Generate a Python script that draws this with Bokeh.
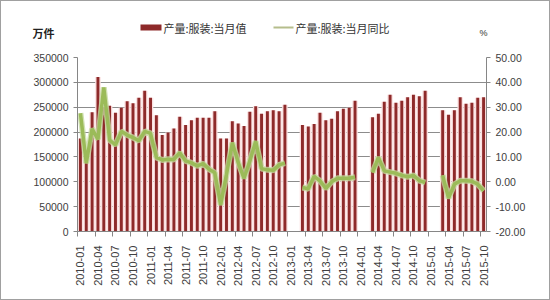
import math
from bokeh.plotting import figure
from bokeh.layouts import column
from bokeh.models import (ColumnDataSource, LinearAxis, Range1d, FixedTicker,
                          NumeralTickFormatter)
from bokeh.core.properties import value
from bokeh.embed import file_html
from bokeh.resources import INLINE

months = ["2010-01","2010-02","2010-03","2010-04","2010-05","2010-06","2010-07","2010-08","2010-09","2010-10","2010-11","2010-12",
          "2011-01","2011-02","2011-03","2011-04","2011-05","2011-06","2011-07","2011-08","2011-09","2011-10","2011-11","2011-12",
          "2012-01","2012-02","2012-03","2012-04","2012-05","2012-06","2012-07","2012-08","2012-09","2012-10","2012-11","2012-12",
          "2013-01","2013-02","2013-03","2013-04","2013-05","2013-06","2013-07","2013-08","2013-09","2013-10","2013-11","2013-12",
          "2014-01","2014-02","2014-03","2014-04","2014-05","2014-06","2014-07","2014-08","2014-09","2014-10","2014-11","2014-12",
          "2015-01","2015-02","2015-03","2015-04","2015-05","2015-06","2015-07","2015-08","2015-09","2015-10"]

# 产量:服装:当月值 (万件)
output = [187000,140000,240000,311000,250000,253000,239000,249000,262000,258000,269000,283000,
          269000,234000,194000,199000,207000,231000,214000,224000,229000,229000,229000,242000,
          187000,187000,222000,217000,212000,241000,252000,237000,242000,244000,242000,255000,
          None,None,214000,211000,216000,239000,224000,227000,242000,247000,249000,263000,
          None,None,230000,237000,261000,275000,259000,263000,270000,275000,272000,283000,
          None,None,244000,235000,244000,270000,257000,259000,269000,270000]

# 产量:服装:当月同比 (%)
yoy = [27.6,7.5,21.3,17.1,38.0,16.8,14.8,20.3,18.8,17.8,16.5,20.3,
       19.5,9.8,8.8,9.1,9.0,11.7,8.4,7.6,6.4,7.3,5.1,3.6,
       -9.3,3.0,15.7,7.8,1.4,8.4,16.3,5.3,4.8,4.6,6.8,7.5,
       None,None,-2.3,-2.8,2.2,0.4,-2.7,0.0,1.4,1.4,1.4,1.8,
       None,None,3.7,9.8,4.4,3.9,3.4,2.6,2.0,2.6,0.5,-0.3,
       None,None,2.6,-6.6,-1.0,0.4,0.4,0.2,-1.0,-3.6]

series_names = ["产量:服装:当月值", "产量:服装:当月同比"]
left_unit = "万件"
right_unit = "%"

left_ticks = [0, 50000, 100000, 150000, 200000, 250000, 300000, 350000]
right_ticks = [-20, -10, 0, 10, 20, 30, 40, 50]

BAR_DARK = "#8e2a2a"
BAR_HALO = "#fbe1e1"
LINE_C = "#9bbb59"
cjk = "Noto Sans CJK SC"
font = "Liberation Sans"
txt = "#404040"
axc = "#868686"

idx = list(range(len(months)))
bar_x = [i for i, v in zip(idx, output) if v is not None]
bar_v = [v for v in output if v is not None]
line_y = [float('nan') if v is None else v for v in yoy]

bars = ColumnDataSource(dict(x=bar_x, top=bar_v))
line = ColumnDataSource(dict(x=idx, y=line_y))

W = 548
HH = 49
MH = 249

# ---------- header (legend + unit labels) ----------
h = figure(width=W, height=HH, output_backend="svg", toolbar_location=None,
           x_range=Range1d(0, W), y_range=Range1d(HH, 0),
           x_axis_type=None, y_axis_type=None, min_border=0)
h.frame_align = False
h.outline_line_color = None
h.grid.visible = False
h.background_fill_color = "white"
h.border_fill_color = "white"

h.quad(left=[139], right=[160], top=[23], bottom=[29], color=BAR_DARK, line_color=None)
h.segment(x0=[272], y0=[26], x1=[292], y1=[26], line_color="#b5bd8c", line_width=2)
h.text(x=[162, 294], y=[26, 26], text=series_names, text_font=value(cjk),
       text_font_size="11px", text_color="#333333", text_baseline="middle", text_align="left")
h.text(x=[42], y=[31], text=[left_unit], text_font=value(cjk), text_font_size="11px",
       text_font_style="bold", text_color="#222222", text_baseline="middle", text_align="center")
h.text(x=[482], y=[31], text=[right_unit], text_font=value(font), text_font_size="9px",
       text_color="#333333", text_baseline="middle", text_align="center")

# ---------- main chart ----------
p = figure(width=W, height=MH, output_backend="svg", toolbar_location=None,
           x_range=Range1d(-0.5, len(months) - 0.5), y_range=Range1d(0, 350000),
           min_border_left=76, min_border_right=63, min_border_top=7, min_border_bottom=68)
p.frame_align = False
p.extra_y_ranges = {"pct": Range1d(-20, 50)}
p.outline_line_color = None
p.background_fill_color = "white"
p.border_fill_color = "white"

p.xgrid.grid_line_color = None
p.ygrid.grid_line_color = "#8c8c8c"
p.ygrid.ticker = FixedTicker(ticks=left_ticks)

p.vbar(x="x", top="top", width=0.95, source=bars, color=BAR_HALO, line_color=None)
p.vbar(x="x", top="top", width=0.5, source=bars, color=BAR_DARK, line_color=None)

p.line(x="x", y="y", source=line, y_range_name="pct", line_color="#c6d9a0", line_width=6, line_alpha=0.8)
p.line(x="x", y="y", source=line, y_range_name="pct", line_color=LINE_C, line_width=3.5)

xa = p.xaxis[0]
xa.ticker = FixedTicker(ticks=list(range(0, len(months), 3)),
                        minor_ticks=[i - 0.5 for i in range(0, len(months) + 1, 3)])
xa.major_label_overrides = {i: months[i] for i in range(0, len(months), 3)}
xa.major_label_orientation = math.pi / 2
xa.major_tick_line_color = None
xa.minor_tick_line_color = axc
xa.minor_tick_out = 5
xa.minor_tick_in = 0
xa.axis_line_color = axc
xa.major_label_text_font = font
xa.major_label_text_font_size = "11px"
xa.major_label_text_color = txt
xa.major_label_standoff = 8

ya = p.yaxis[0]
ya.ticker = FixedTicker(ticks=left_ticks)
ya.formatter = NumeralTickFormatter(format="0")
ya.axis_line_color = axc
ya.major_tick_line_color = axc
ya.major_tick_out = 4
ya.major_tick_in = 0
ya.minor_tick_line_color = None
ya.major_label_text_font = font
ya.major_label_text_font_size = "10.5px"
ya.major_label_text_color = txt
ya.major_label_standoff = 5

ra = LinearAxis(y_range_name="pct", ticker=FixedTicker(ticks=right_ticks),
                formatter=NumeralTickFormatter(format="0.00"))
ra.axis_line_color = axc
ra.major_tick_line_color = axc
ra.major_tick_out = 4
ra.major_tick_in = 0
ra.minor_tick_line_color = None
ra.major_label_text_font = font
ra.major_label_text_font_size = "10.5px"
ra.major_label_text_color = txt
ra.major_label_standoff = 5
p.add_layout(ra, "right")

layout = column(h, p, spacing=0, styles={"border": "1px solid #a0a0a0", "background-color": "white"})

open("out.html", "w").write(file_html(layout, INLINE))
